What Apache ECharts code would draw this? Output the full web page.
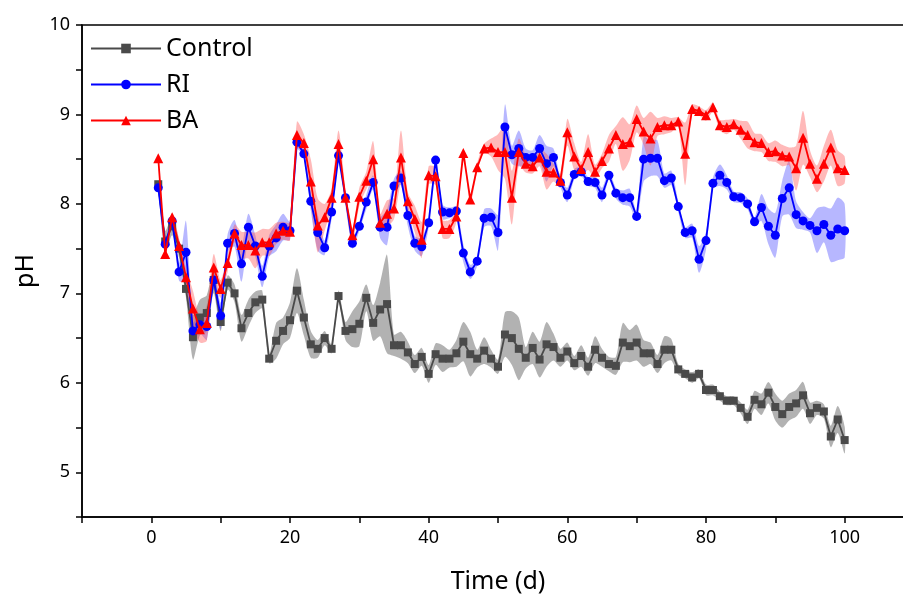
<!DOCTYPE html>
<html><head><meta charset="utf-8">
<script src="https://cdn.jsdelivr.net/npm/echarts@6/dist/echarts.min.js"></script>
<style>html,body{margin:0;padding:0;background:#fff}#c{width:903px;height:600px}</style>
</head><body><div id="c"></div>
<script>
const days = Array.from({length:100},(_,i)=>i+1);
const controlPH = [8.22,7.58,7.75,7.5,7.05,6.51,6.73,6.78,7.15,6.68,
7.12,7.0,6.61,6.78,6.9,6.93,6.27,6.47,6.58,6.7,
7.03,6.73,6.43,6.38,6.5,6.38,6.97,6.58,6.6,6.66,
6.95,6.67,6.82,6.88,6.42,6.42,6.34,6.21,6.29,6.1,
6.32,6.27,6.27,6.33,6.46,6.32,6.27,6.36,6.27,6.18,
6.54,6.5,6.38,6.28,6.39,6.26,6.43,6.4,6.28,6.35,
6.22,6.3,6.18,6.37,6.28,6.21,6.19,6.45,6.41,6.45,
6.33,6.33,6.21,6.37,6.37,6.15,6.1,6.06,6.1,5.92,
5.92,5.85,5.8,5.8,5.72,5.62,5.81,5.76,5.89,5.73,
5.65,5.73,5.77,5.86,5.66,5.72,5.68,5.4,5.59,5.36];
const controlErr = [0.05,0.12,0.1,0.1,0.1,0.25,0.2,0.2,0.15,0.1,
0.08,0.1,0.15,0.15,0.12,0.1,0.05,0.2,0.15,0.2,
0.25,0.2,0.15,0.1,0.08,0.05,0.06,0.1,0.2,0.25,
0.15,0.2,0.3,0.55,0.12,0.15,0.12,0.1,0.1,0.1,
0.12,0.15,0.1,0.15,0.22,0.25,0.1,0.15,0.1,0.08,
0.25,0.3,0.35,0.12,0.18,0.2,0.25,0.15,0.1,0.1,
0.08,0.12,0.1,0.15,0.1,0.08,0.1,0.22,0.18,0.2,
0.15,0.12,0.1,0.15,0.12,0.06,0.05,0.06,0.05,0.06,
0.06,0.05,0.05,0.05,0.06,0.08,0.1,0.12,0.12,0.15,
0.15,0.15,0.15,0.15,0.12,0.08,0.08,0.12,0.15,0.15];
const riPH = [8.18,7.55,7.81,7.24,7.46,6.58,6.65,6.63,7.15,6.75,
7.56,7.67,7.33,7.74,7.53,7.19,7.53,7.62,7.74,7.7,
8.69,8.56,8.03,7.68,7.51,7.91,8.54,8.07,7.56,7.75,
8.02,8.24,7.74,7.74,8.2,8.29,7.87,7.56,7.52,7.79,
8.49,7.91,7.9,7.92,7.45,7.24,7.36,7.84,7.85,7.68,
8.86,8.55,8.62,8.52,8.52,8.62,8.45,8.52,8.24,8.1,
8.33,8.36,8.25,8.24,8.1,8.32,8.12,8.07,8.07,7.86,
8.5,8.51,8.51,8.26,8.29,7.97,7.68,7.7,7.38,7.59,
8.23,8.32,8.24,8.08,8.07,8.0,7.8,7.96,7.75,7.65,
8.06,8.18,7.88,7.81,7.76,7.7,7.77,7.65,7.72,7.7];
const riErr = [0.05,0.05,0.05,0.1,0.35,0.1,0.1,0.15,0.1,0.15,
0.1,0.15,0.2,0.15,0.12,0.12,0.12,0.15,0.15,0.1,
0.08,0.05,0.1,0.2,0.08,0.08,0.08,0.05,0.06,0.05,
0.08,0.08,0.12,0.2,0.08,0.08,0.12,0.08,0.1,0.05,
0.05,0.08,0.06,0.05,0.1,0.08,0.05,0.1,0.1,0.2,
0.25,0.1,0.2,0.1,0.08,0.15,0.2,0.1,0.05,0.08,
0.06,0.05,0.05,0.06,0.08,0.05,0.06,0.08,0.1,0.05,
0.25,0.2,0.2,0.08,0.08,0.06,0.06,0.08,0.15,0.1,
0.06,0.12,0.08,0.06,0.06,0.06,0.05,0.15,0.2,0.25,
0.2,0.3,0.15,0.1,0.08,0.25,0.2,0.3,0.35,0.3];
const baPH = [8.51,7.44,7.85,7.53,7.18,6.83,6.6,6.67,7.29,7.05,
7.34,7.67,7.54,7.54,7.48,7.57,7.57,7.67,7.7,7.69,
8.77,8.68,8.25,7.76,7.85,8.07,8.67,8.07,7.65,8.08,
8.26,8.5,7.79,7.89,7.95,8.52,8.03,7.83,7.6,8.32,
8.31,7.72,7.72,7.86,8.57,8.05,8.41,8.62,8.63,8.58,
8.58,8.07,8.58,8.45,8.42,8.52,8.36,8.35,8.26,8.8,
8.53,8.39,8.58,8.36,8.48,8.62,8.77,8.67,8.69,8.95,
8.81,8.73,8.86,8.88,8.88,8.92,8.56,9.06,9.04,8.99,
9.08,8.88,8.86,8.89,8.83,8.77,8.69,8.68,8.58,8.59,
8.54,8.53,8.4,8.74,8.45,8.28,8.45,8.63,8.4,8.38];
const baErr = [0.05,0.05,0.05,0.08,0.1,0.2,0.15,0.2,0.15,0.1,
0.1,0.1,0.15,0.15,0.2,0.15,0.15,0.12,0.1,0.1,
0.15,0.1,0.25,0.3,0.15,0.1,0.15,0.1,0.08,0.1,
0.1,0.2,0.1,0.15,0.12,0.3,0.1,0.15,0.2,0.1,
0.1,0.1,0.1,0.06,0.05,0.05,0.05,0.05,0.1,0.2,
0.3,0.3,0.15,0.1,0.08,0.1,0.2,0.1,0.08,0.15,
0.15,0.08,0.2,0.08,0.08,0.15,0.1,0.3,0.2,0.15,
0.15,0.3,0.1,0.1,0.08,0.05,0.35,0.05,0.05,0.06,
0.05,0.06,0.08,0.06,0.1,0.15,0.1,0.1,0.1,0.12,
0.12,0.1,0.25,0.3,0.15,0.15,0.2,0.2,0.2,0.15];

const FONT = '"Noto Sans", "Open Sans", sans-serif';

function bandSeries(key, vals, errs, color, opacity){
  return {
    name:key, type:'custom', silent:true, z:1,
    data:[[0]],
    renderItem:function(params, api){
      const up = days.map((d,i)=>api.coord([d, vals[i]+errs[i]]));
      const lo = days.map((d,i)=>api.coord([d, vals[i]-errs[i]])).reverse();
      return {
        type:'polygon',
        shape:{points: up.concat(lo), smooth:0.25},
        style:{fill:color, opacity:opacity}
      };
    }
  };
}

const chart = echarts.init(document.getElementById('c'), null, {renderer:'canvas'});
chart.setOption({
  animation:false,
  backgroundColor:'#fff',
  grid:{left:82, top:25, width:832, height:492, outerBoundsMode:'none', containLabel:false,
        show:true, borderColor:'#000', borderWidth:1.5, backgroundColor:'transparent'},
  legend:{
    data:['Control','RI','BA'],
    left:85, top:31, orient:'vertical', itemWidth:70, itemHeight:12, itemGap:11,
    textStyle:{fontFamily:FONT, fontSize:25, color:'#000'}
  },
  xAxis:{
    type:'value', min:-10, max:110, interval:10,
    name:'Time (d)', nameLocation:'middle', nameGap:52,
    nameTextStyle:{fontFamily:FONT, fontSize:25, color:'#000'},
    axisLine:{show:true, onZero:false, lineStyle:{color:'#000', width:1.5}},
    axisTick:{show:true, inside:false, length:6, lineStyle:{color:'#000', width:1.5}},
    axisLabel:{fontFamily:FONT, fontSize:18, color:'#000', margin:12,
      formatter:v=> (v%20===0 ? String(v) : '')},
    splitLine:{show:false}
  },
  yAxis:{
    type:'value', min:4.5, max:10, interval:0.5,
    name:'pH', nameLocation:'middle', nameGap:44, nameRotate:90,
    nameTextStyle:{fontFamily:FONT, fontSize:25, color:'#000'},
    axisLine:{show:true, onZero:false, lineStyle:{color:'#000', width:1.5}},
    axisTick:{show:true, inside:false, length:6, lineStyle:{color:'#000', width:1.5}},
    axisLabel:{fontFamily:FONT, fontSize:18, color:'#000', margin:12,
      formatter:v=> (Math.abs(v-Math.round(v))<1e-6 ? String(Math.round(v)) : '')},
    splitLine:{show:false}
  },
  series:[
    bandSeries('cb', controlPH, controlErr, '#7f7f7f', 0.6),
    bandSeries('rb', riPH, riErr, '#6060ff', 0.45),
    bandSeries('bb', baPH, baErr, '#ff5050', 0.4),
    {name:'Control', type:'line', symbol:'rect', symbolSize:8, z:5,
     itemStyle:{color:'#4a4a4a'}, lineStyle:{color:'#4a4a4a', width:1.8},
     data: days.map((d,i)=>[d, controlPH[i]])},
    {name:'RI', type:'line', symbol:'circle', symbolSize:9, z:6,
     itemStyle:{color:'#0000ff'}, lineStyle:{color:'#0000ff', width:1.8},
     data: days.map((d,i)=>[d, riPH[i]])},
    {name:'BA', type:'line', symbol:'triangle', symbolSize:10, z:7,
     itemStyle:{color:'#ff0000'}, lineStyle:{color:'#ff0000', width:1.8},
     data: days.map((d,i)=>[d, baPH[i]])}
  ]
});
</script></body></html>
